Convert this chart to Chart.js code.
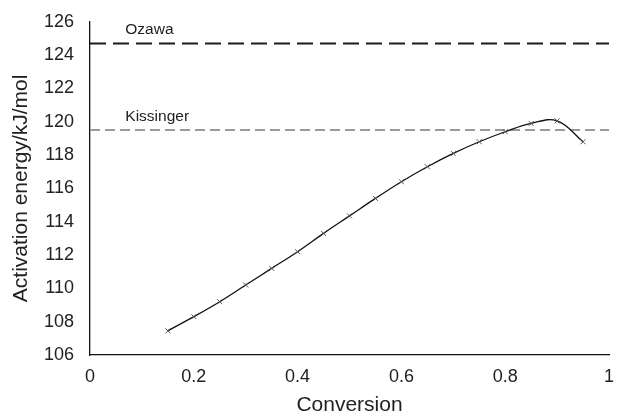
<!DOCTYPE html>
<html>
<head>
<meta charset="utf-8">
<script src="https://cdn.jsdelivr.net/npm/chart.js@4.4.1/dist/chart.umd.min.js"></script>
<style>
  html, body { margin: 0; padding: 0; background: #fff; }
  #wrap { width: 629px; height: 416px; }
</style>
</head>
<body>
<div id="wrap"><canvas id="energyChart"></canvas></div>
<script>
// Activation energy vs conversion
const conversion = [0.15, 0.2, 0.25, 0.3, 0.35, 0.4, 0.45, 0.5, 0.55, 0.6, 0.65, 0.7, 0.75, 0.8, 0.85, 0.9, 0.95];
const energy = [107.45, 108.3, 109.2, 110.2, 111.2, 112.2, 113.3, 114.35, 115.4, 116.4, 117.3, 118.1, 118.8, 119.4, 119.9, 120.05, 118.8];
const refNames = ["Ozawa", "Kissinger"];
const refValues = [124.7, 119.5];
const yTicks = [106, 108, 110, 112, 114, 116, 118, 120, 122, 124, 126];
const xTicks = [0, 0.2, 0.4, 0.6, 0.8, 1];

const FONT = "'Liberation Sans', Arial, sans-serif";
const TEXT = "#222";

// labels sitting just above each reference line
const refLabels = {
  id: "refLabels",
  afterDatasetsDraw(chart) {
    const ctx = chart.ctx;
    const xs = chart.scales.x, ys = chart.scales.y;
    ctx.save();
    ctx.font = "15.5px " + FONT;
    ctx.fillStyle = TEXT;
    ctx.textBaseline = "alphabetic";
    refNames.forEach((name, i) => {
      ctx.fillText(name, xs.getPixelForValue(0.068), ys.getPixelForValue(refValues[i]) - 9);
    });
    ctx.restore();
  }
};

const ctxEnergy = document.getElementById("energyChart").getContext("2d");
new Chart(ctxEnergy, {
  type: "scatter",
  data: {
    datasets: [
      {
        data: conversion.map((c, i) => ({ x: c, y: energy[i] })),
        showLine: true,
        borderColor: "#111",
        borderWidth: 1.3,
        tension: 0.4,
        pointStyle: "crossRot",
        pointRadius: 3.5,
        pointBorderColor: "#555",
        pointBorderWidth: 1
      },
      {
        data: [{ x: 0, y: refValues[0] }, { x: 1, y: refValues[0] }],
        showLine: true,
        borderColor: "#1a1a1a",
        borderWidth: 2,
        borderDash: [16, 7],
        pointRadius: 0
      },
      {
        data: [{ x: 0, y: refValues[1] }, { x: 1, y: refValues[1] }],
        showLine: true,
        borderColor: "#9a9a9a",
        borderWidth: 2,
        borderDash: [10, 5],
        pointRadius: 0
      }
    ]
  },
  options: {
    responsive: true,
    maintainAspectRatio: false,
    animation: false,
    layout: { padding: { left: 0, right: 20, top: 20, bottom: 0 } },
    plugins: {
      legend: { display: false },
      tooltip: { enabled: false }
    },
    scales: {
      x: {
        type: "linear",
        min: 0,
        max: 1,
        afterBuildTicks: s => { s.ticks = xTicks.map(v => ({ value: v })); },
        afterFit: s => { s.height = 61; },
        grid: { display: false, drawTicks: true, tickLength: 5, tickColor: "#888" },
        border: { display: true, color: "#111", width: 1.3 },
        ticks: {
          color: TEXT,
          font: { family: FONT, size: 18 },
          padding: 6,
          maxRotation: 0,
          callback: v => String(v)
        },
        title: {
          display: true,
          text: "Conversion",
          color: TEXT,
          font: { family: FONT, size: 21, lineHeight: 1 },
          padding: { top: 0, bottom: 0 }
        }
      },
      y: {
        min: 106,
        max: 126,
        afterBuildTicks: s => { s.ticks = yTicks.map(v => ({ value: v })); },
        afterFit: s => { s.width = 90; },
        grid: { display: false, drawTicks: true, tickLength: 5, tickColor: "#555" },
        border: { display: true, color: "#111", width: 1.3 },
        ticks: {
          color: TEXT,
          font: { family: FONT, size: 18 },
          padding: 11
        },
        title: {
          display: true,
          text: "Activation energy/kJ/mol",
          color: TEXT,
          font: { family: FONT, size: 21 },
          padding: { top: 9, bottom: 0 }
        }
      }
    }
  },
  plugins: [refLabels]
});
</script>
</body>
</html>
